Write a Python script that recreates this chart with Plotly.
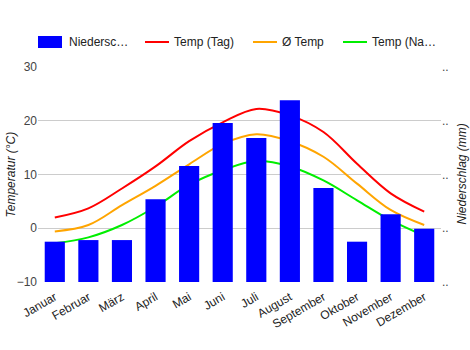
import plotly.graph_objects as go

months = ["Januar", "Februar", "März", "April", "Mai", "Juni", "Juli",
          "August", "September", "Oktober", "November", "Dezember"]
niederschlag = [37.5, 39, 39, 77, 108, 148, 134, 169, 87.5, 37.5, 63, 49.5]
temp_tag = [2.0, 3.7, 7.4, 11.5, 16.2, 19.7, 22.2, 21.0, 17.9, 12.0, 6.5, 3.1]
temp_avg = [-0.6, 0.6, 4.3, 7.9, 11.9, 15.7, 17.5, 16.2, 13.3, 8.3, 3.4, 0.6]
temp_nacht = [-2.8, -1.7, 0.6, 4.0, 8.1, 10.8, 12.5, 11.5, 8.9, 5.2, 1.5, -1.4]
temp_ticks = [-10, 0, 10, 20, 30]
rain_ticks = [0, 50, 100, 150, 200]

W, H = 470, 350
L, R, T, B = 38, 29, 67, 68
pw, ph = W - L - R, H - T - B

fig = go.Figure()
fig.add_trace(go.Bar(x=months, y=niederschlag, name="Niederschlag", marker_color="#0000ff",
                     marker_line_width=0, yaxis="y2", showlegend=False))
for vals, col, name in [(temp_tag, "#ff0000", "Temp (Tag)"),
                        (temp_avg, "#ffa500", "Ø Temp"),
                        (temp_nacht, "#00ee00", "Temp (Nacht)")]:
    fig.add_trace(go.Scatter(x=months, y=vals, mode="lines", name=name,
                             line=dict(color=col, width=2, shape="spline", smoothing=1),
                             showlegend=False))

def px(x):
    return (x - L) / pw

def py(y):
    return (H - B - y) / ph

legend = [("rect", "#0000ff", "Niedersc…", 38, 67),
          ("line", "#ff0000", "Temp (Tag)", 145, 172),
          ("line", "#ffa500", "Ø Temp", 253, 280),
          ("line", "#00ee00", "Temp (Na…", 343, 370)]
shapes, annots = [], []
for kind, col, txt, x0, tx in legend:
    if kind == "rect":
        shapes.append(dict(type="rect", xref="paper", yref="paper", x0=px(x0), x1=px(x0 + 24),
                           y0=py(48), y1=py(36), fillcolor=col, line_width=0))
    else:
        shapes.append(dict(type="line", xref="paper", yref="paper", x0=px(x0), x1=px(x0 + 24),
                           y0=py(42), y1=py(42), line=dict(color=col, width=2)))
    annots.append(dict(text=txt, xref="paper", yref="paper", x=px(tx), y=py(42),
                       xanchor="left", yanchor="middle", showarrow=False,
                       font=dict(size=12, color="#222")))

annots.append(dict(text="<i>Temperatur (°C)</i>", xref="paper", yref="paper", x=px(10), y=0.5,
                   xanchor="center", yanchor="middle", textangle=-90, showarrow=False,
                   font=dict(size=12, color="#222")))
annots.append(dict(text="<i>Niederschlag (mm)</i>", xref="paper", yref="paper", x=px(461), y=0.5,
                   xanchor="center", yanchor="middle", textangle=-90, showarrow=False,
                   font=dict(size=12, color="#222")))

fig.update_layout(
    width=W, height=H, margin=dict(l=L, r=R, t=T, b=B),
    paper_bgcolor="white", plot_bgcolor="white",
    font=dict(family="Liberation Sans, Arial, sans-serif", size=12, color="#444"),
    bargap=0.4, shapes=shapes, annotations=annots,
    xaxis=dict(tickangle=-30, showgrid=False, showline=False, ticks="", ticklabelstandoff=5,
               tickfont=dict(size=12, color="#222")),
    yaxis=dict(range=[-10, 30], tickvals=temp_ticks, showgrid=True, gridcolor="#cccccc",
               zeroline=False, showline=False, ticks="", tickfont=dict(size=12, color="#444")),
    yaxis2=dict(range=[0, 200], tickvals=rain_ticks, ticktext=[".."] * 5, overlaying="y",
                side="right", showgrid=False, zeroline=False, showline=False, ticks="",
                tickfont=dict(size=12, color="#444")),
)
fig.write_html("out.html")
